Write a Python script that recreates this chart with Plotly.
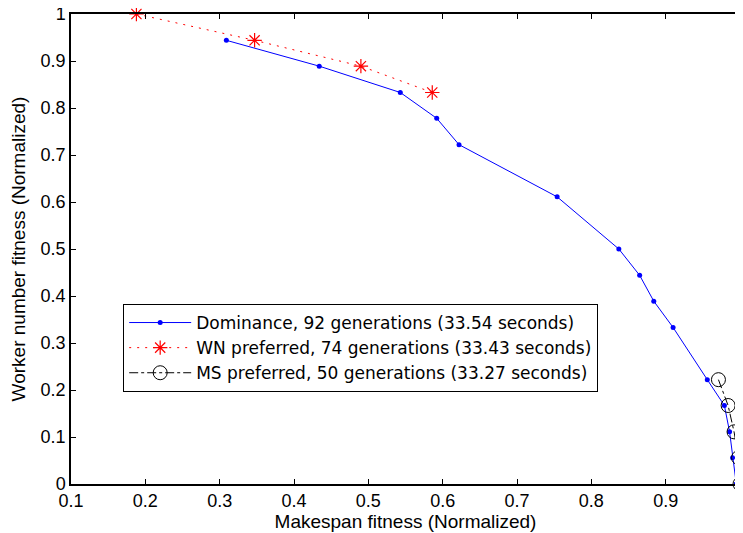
import plotly.graph_objects as go

# Pareto fronts
dom_x = [0.309, 0.434, 0.543, 0.592, 0.622, 0.754, 0.837, 0.865, 0.884, 0.910,
         0.956, 0.979, 0.986, 0.990, 0.995]
dom_y = [0.944, 0.889, 0.833, 0.778, 0.722, 0.611, 0.500, 0.444, 0.389, 0.333,
         0.222, 0.167, 0.111, 0.056, 0.0]

wn_x = [0.188, 0.347, 0.490, 0.586]
wn_y = [1.0, 0.944, 0.889, 0.833]

ms_x = [0.971, 0.984, 0.992, 0.998, 1.0]
ms_y = [0.222, 0.167, 0.111, 0.056, 0.0]

labels = [
    "Dominance, 92 generations (33.54 seconds)",
    "WN preferred, 74 generations (33.43 seconds)",
    "MS preferred, 50 generations (33.27 seconds)",
]

fig = go.Figure()

fig.add_trace(go.Scatter(
    x=dom_x, y=dom_y, name=labels[0], mode="lines+markers",
    line=dict(color="blue", width=1),
    marker=dict(symbol="circle", size=5, color="blue"),
    cliponaxis=False,
))

fig.add_trace(go.Scatter(
    x=wn_x, y=wn_y, name=labels[1], mode="lines+markers",
    line=dict(color="red", width=1, dash="2px,6px"),
    marker=dict(symbol="asterisk-open", size=12, color="red",
                line=dict(color="red", width=1.2)),
    cliponaxis=False,
))

fig.add_trace(go.Scatter(
    x=ms_x, y=ms_y, name=labels[2], mode="lines+markers",
    line=dict(color="black", width=1, dash="dashdot"),
    marker=dict(symbol="circle-open", size=14, color="black",
                line=dict(color="black", width=1)),
    cliponaxis=False,
))

axis_style = dict(
    showgrid=False, zeroline=False, showline=True, linecolor="black",
    linewidth=1.5, mirror="ticks", ticks="inside", ticklen=5,
    tickcolor="black", tickwidth=1, dtick=0.1,
    tickfont=dict(size=18, color="black"), ticklabeloverflow="allow",
)

fig.update_xaxes(range=[0.1, 1.0], tick0=0.1,
                 title=dict(text="Makespan fitness (Normalized)", standoff=2,
                            font=dict(size=19, color="black")),
                 **axis_style)
fig.update_yaxes(range=[0, 1.0], tick0=0,
                 title=dict(text="Worker number fitness (Normalized)", standoff=10,
                            font=dict(size=19, color="black")),
                 **axis_style)

# the page body adds an 8px offset, so the figure is a bit smaller than the window
fig.update_layout(
    width=735, height=525,
    margin=dict(l=63, r=3, t=6, b=49, autoexpand=False),
    plot_bgcolor="white", paper_bgcolor="white",
    font=dict(family="Liberation Sans, Arial, sans-serif", color="black"),
    legend=dict(x=0.078, y=0.383, xanchor="left", yanchor="top",
                bordercolor="black", borderwidth=1, bgcolor="white",
                font=dict(size=17, family="DejaVu Sans"), tracegroupgap=0,
                itemwidth=62),
    showlegend=True,
)

fig.write_html("out.html")
